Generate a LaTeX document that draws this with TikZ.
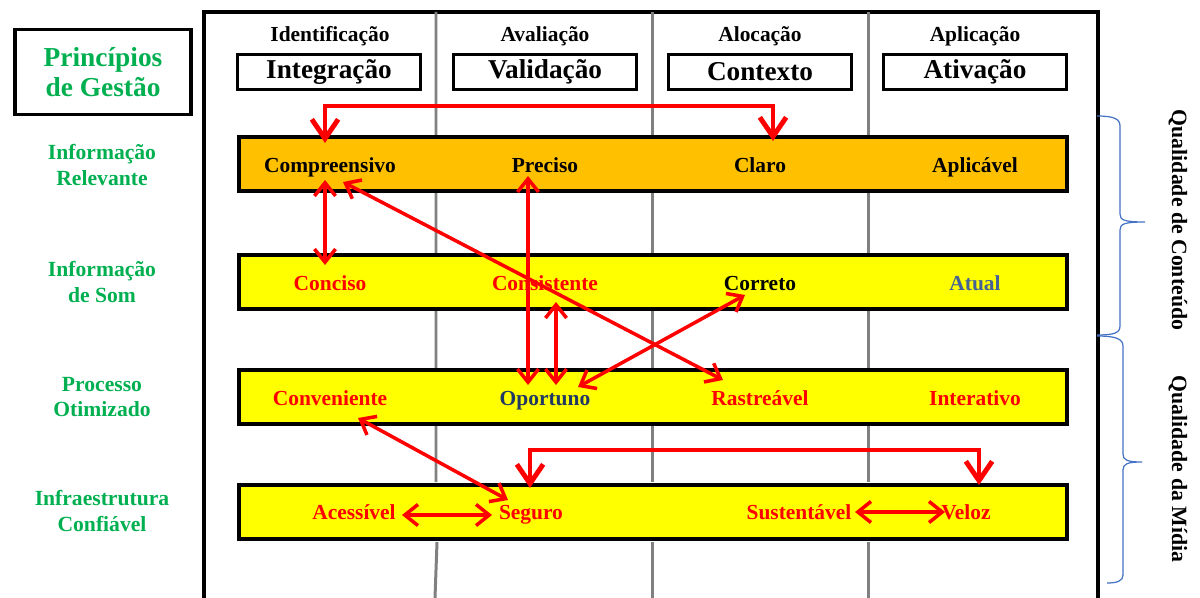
\documentclass[tikz,border=0pt]{standalone}
\usepackage{fontspec}
\setmainfont{Liberation Serif}
\usetikzlibrary{arrows.meta,calc}
\definecolor{gestgreen}{RGB}{0,176,80}
\definecolor{bandorange}{RGB}{255,192,0}
\definecolor{bandyellow}{RGB}{255,255,0}
\definecolor{bracecol}{RGB}{68,114,196}
\definecolor{navytext}{RGB}{31,56,100}
\definecolor{slatetext}{RGB}{68,98,150}
\tikzset{
    frame/.style={line width=2.3pt},
    divider/.style={gray, line width=1.7pt},
    gestbox/.style={draw, line width=2.2pt, minimum width=3.52cm, minimum height=1.7cm, align=center, text=gestgreen, font=\fontsize{15.6}{17}\selectfont\bfseries},
    titlebox/.style={draw, line width=2.2pt, minimum width=3.66cm, minimum height=0.7cm, inner sep=0pt, font=\fontsize{15.5}{17}\selectfont\bfseries},
    header/.style={anchor=base, font=\fontsize{12.2}{14.7}\selectfont\bfseries},
    band/.style={draw, line width=2.3pt, minimum width=16.56cm, minimum height=1.08cm},
    word/.style={anchor=base, inner sep=0pt, font=\fontsize{12.2}{14.7}\selectfont\bfseries},
    rowlabel/.style={align=center, text=gestgreen, font=\fontsize{12.3}{14.7}\selectfont\bfseries},
    sidelabel/.style={rotate=-90, font=\fontsize{12.4}{14.7}\selectfont\bfseries},
    brace/.style={bracecol, line width=0.7pt},
    arr/.style={red, line width=2pt, >={Straight Barb[length=7.5pt,width=12pt]}, <->},
    elbow/.style={red, line width=2.8pt, >={Straight Barb[length=11pt,width=15pt]}, <->}
}
\begin{document}
        \begin{tikzpicture}[x=0.02cm, y=-0.02cm]
            \useasboundingbox (0,0) rectangle (1200,598);
            \node[gestbox] (gestao) at (103,72) {Princípios\\de Gestão};
            \draw[frame] (204,598) -- (204,12) -- (1098,12) -- (1098,598);
            \draw[divider] (436,12) -- (436,135) (436,193) -- (436,253) (436,311) -- (436,368) (436,426) -- (436,482) (437,542) -- (435,598);
            \draw[divider] (652,12) -- (652,135) (652,193) -- (652,253) (652,311) -- (652,368) (652,426) -- (652,482) (652,542) -- (652,598);
            \draw[divider] (868,12) -- (868,135) (868,193) -- (868,253) (868,311) -- (868,368) (868,426) -- (868,482) (868,542) -- (868,598);
            \node[header] (ident) at (330,42) {Identificação};
            \node[header] (aval) at (545,42) {Avaliação};
            \node[header] (aloc) at (760,42) {Alocação};
            \node[header] (aplic) at (975,42) {Aplicação};
            \node[titlebox] (integ) at (329,72) {Integração};
            \node[titlebox] (valid) at (545,72) {Validação};
            \node[titlebox] (contx) at (760,72) {Contexto};
            \node[titlebox] (ativ) at (975,72) {Ativação};
            \node[band, fill=bandorange] (brelev) at (653,164) {};
            \node[band, fill=bandyellow] (bsom) at (653,282) {};
            \node[band, fill=bandyellow] (bproc) at (653,397) {};
            \node[band, fill=bandyellow] (binfra) at (653,512) {};
            \node[rowlabel] (lrelev) at (102,165) {Informação\\Relevante};
            \node[rowlabel] (lsom) at (102,282) {Informação\\de Som};
            \node[rowlabel] (lproc) at (102,397) {Processo\\Otimizado};
            \node[rowlabel] (linfra) at (102,511) {Infraestrutura\\Confiável};
            \node[word] (compreensivo) at (330,173) {Compreensivo};
            \node[word] (preciso) at (545,173) {Preciso};
            \node[word] (claro) at (760,173) {Claro};
            \node[word] (aplicavel) at (975,173) {Aplicável};
            \node[word, red] (conciso) at (330,290) {Conciso};
            \node[word, red] (consistente) at (545,290) {Consistente};
            \node[word] (correto) at (760,290) {Correto};
            \node[word, slatetext] (atual) at (975,290) {Atual};
            \node[word, red] (conveniente) at (330,405) {Conveniente};
            \node[word, navytext] (oportuno) at (545,405) {Oportuno};
            \node[word, red] (rastreavel) at (760,405) {Rastreável};
            \node[word, red] (interativo) at (975,405) {Interativo};
            \node[word, red] (acessivel) at (354,519) {Acessível};
            \node[word, red] (seguro) at (531,519) {Seguro};
            \node[word, red] (sustentavel) at (799,519) {Sustentável};
            \node[word, red] (veloz) at (966,519) {Veloz};
            \draw[brace] (1097,116) .. controls (1114,116) and (1120,119) .. (1120,126) -- (1120,214) .. controls (1120,220) and (1124,222) .. (1145,222) .. controls (1124,222) and (1120,224) .. (1120,230) -- (1120,326) .. controls (1120,333) and (1114,335) .. (1097,335);
            \draw[brace] (1097,336) .. controls (1116,336) and (1123,339) .. (1123,346) -- (1123,454) .. controls (1123,460) and (1127,462) .. (1142,462) .. controls (1127,462) and (1123,464) .. (1123,470) -- (1123,575) .. controls (1123,581) and (1117,583) .. (1107,583);
            \node[sidelabel] (qconteudo) at (1178,220) {Qualidade de Conteúdo};
            \node[sidelabel] (qmidia) at (1178,469) {Qualidade da Mídia};
            \draw[elbow] ($(compreensivo.base)+(-5,-30)$) -- ($(compreensivo.base)+(-5,-67)$) -| ($(claro.base)+(13,-32)$);
            \draw[arr] ($(compreensivo.base)+(-5,7)$) -- ($(conciso.base)+(-5,-25)$);
            \draw[arr] ($(preciso.base)+(-17,3)$) -- ($(oportuno.base)+(-17,-20)$);
            \draw[arr] ($(consistente.base)+(11,12)$) -- ($(oportuno.base)+(11,-20)$);
            \draw[arr] ($(compreensivo.base)+(13,9)$) -- ($(rastreavel.base)+(-37,-25)$);
            \draw[arr] ($(correto.base)+(-15,5)$) -- ($(oportuno.base)+(33,-18)$);
            \draw[arr] ($(conveniente.base)+(28,13)$) -- ($(seguro.base)+(-23,-19)$);
            \draw[arr] ($(acessivel.base)+(48,-4)$) -- ($(seguro.base)+(-39,-4)$);
            \draw[arr] ($(sustentavel.base)+(56,-7)$) -- ($(veloz.base)+(-21,-7)$);
            \draw[elbow] ($(seguro.base)+(-1,-31)$) -- ($(seguro.base)+(-1,-69)$) -| ($(veloz.base)+(13,-34)$);
        \end{tikzpicture}
\end{document}
